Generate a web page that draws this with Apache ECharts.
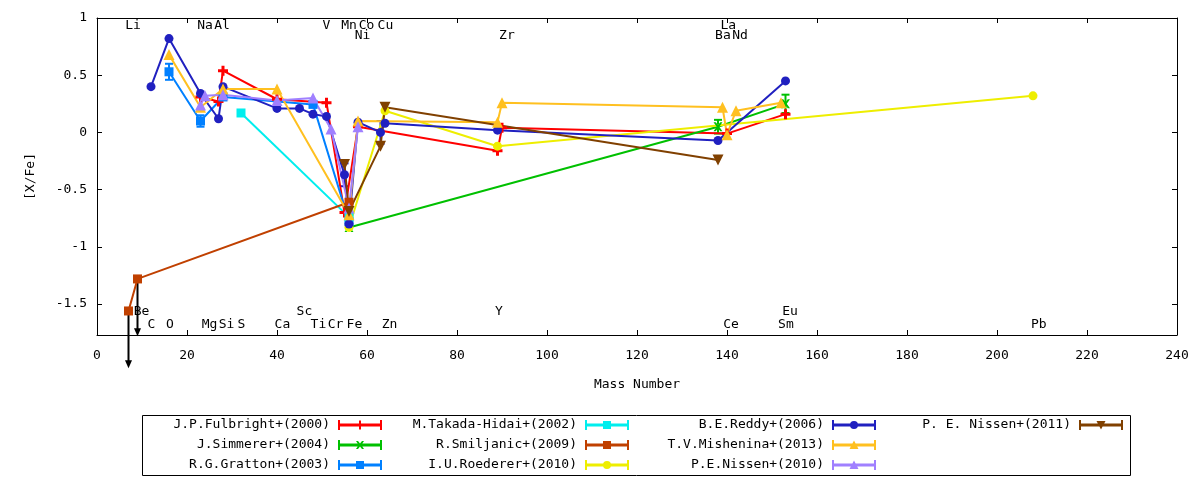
<!DOCTYPE html>
<html><head><meta charset="utf-8">
<script src="https://cdn.jsdelivr.net/npm/echarts@6/dist/echarts.min.js"></script>
<style>html,body{margin:0;padding:0;background:#fff}#c{width:1200px;height:480px}</style>
</head><body><div id="c"></div>
<script>
const FONT = '"DejaVu Sans Mono", monospace';

// Element annotations: name, x (mass number), y ([X/Fe])
const elemNames = ['Li','Na','Al','V','Mn','Co','Cu','Ni','Zr','La','Ba','Nd',
                   'Be','C','O','Mg','Si','S','Ca','Sc','Ti','Cr','Fe','Zn','Y','Ce','Eu','Sm','Pb'];
const elemX = [8.0,24.0,27.8,51.0,56.0,59.9,64.1,59.0,91.1,140.3,139.1,142.9,
               9.9,12.1,16.2,25.0,28.8,32.1,41.2,46.1,49.2,53.0,57.2,65.0,89.3,140.9,154.0,153.1,209.3];
const elemY = [0.935,0.935,0.935,0.935,0.935,0.935,0.935,0.85,0.85,0.935,0.85,0.85,
               -1.57,-1.68,-1.68,-1.68,-1.68,-1.68,-1.68,-1.57,-1.68,-1.68,-1.68,-1.68,-1.57,-1.68,-1.57,-1.68,-1.68];

// Series data
const fulbrightMass = [23, 27, 28, 40, 51, 55, 58, 89, 90, 140, 153];
const fulbrightVal  = [0.31, 0.27, 0.54, 0.29, 0.26, -0.70, 0.05, -0.16, 0.04, -0.01, 0.16];

const simmererMass = [56, 138, 153];
const simmererVal  = [-0.83, 0.05, 0.25];
const simmererErr  = [0, 0.06, 0.08];

const grattonMass = [16, 23, 28, 48, 56];
const grattonVal  = [0.53, 0.10, 0.31, 0.245, -0.78];
const grattonErr  = [0.07, 0.05, 0, 0, 0];

const takadaMass = [32, 56];
const takadaVal  = [0.17, -0.74];

const smiljanicMass  = [7, 9, 56];
const smiljanicVal   = [-1.56, -1.28, -0.61];
const smiljanicLimit = [1, 1, 0];   // 1 = upper limit (arrow)
const limitArrowLen = 0.5;

const roedererMass = [56, 64, 89, 208];
const roedererVal  = [-0.83, 0.19, -0.12, 0.32];

const reddyMass = [12, 16, 23, 27, 28, 40, 45, 48, 51, 55, 56, 58, 63, 64, 89, 138, 153];
const reddyVal  = [0.40, 0.82, 0.34, 0.12, 0.40, 0.21, 0.21, 0.16, 0.14, -0.37, -0.80, 0.09, 0.00, 0.08, 0.02, -0.07, 0.45];
const reddyErr  = [0, 0, 0, 0, 0, 0, 0, 0, 0, 0.1, 0, 0, 0.1, 0, 0, 0, 0];

const misheninaMass = [16, 23, 28, 40, 56, 58, 89, 90, 139, 140, 142, 152];
const misheninaVal  = [0.68, 0.22, 0.38, 0.38, -0.72, 0.10, 0.09, 0.26, 0.22, -0.02, 0.19, 0.26];

const nissen10Mass = [23, 24, 28, 40, 48, 52, 56, 58];
const nissen10Val  = [0.24, 0.32, 0.33, 0.28, 0.30, 0.03, -0.66, 0.05];

const nissen11Mass = [55, 56, 63, 64, 138];
const nissen11Val  = [-0.28, -0.69, -0.12, 0.22, -0.24];

// ---- styles ----
const SYM = {
  plus: 'path://M3.5 0H6.5V3.5H10V6.5H6.5V10H3.5V6.5H0V3.5H3.5Z',
  star: 'path://M0 0H2.5L5 3.2L7.5 0H10L6.4 5L10 10H7.5L5 6.8L2.5 10H0L3.6 5Z',
  square: 'rect', circle: 'circle', tri: 'triangle', itri: 'triangle'
};
const ICON_BAR = 'M0 0H2V3.5H42V0H44V10H42V6.5H2V10H0Z';
const ICON_MARK = {
  plus: 'M21 0.5H23V9.5H21Z',
  star: 'M18 1H20L22 3.6L24 1H26L23.3 5L26 9H24L22 6.4L20 9H18L20.7 5Z',
  square: 'M18 1H26V9H18Z',
  circle: 'M18 5A4 4 0 1 1 26 5A4 4 0 1 1 18 5Z',
  tri: 'M22 0.5L26.5 9H17.5Z',
  itri: 'M17.5 1H26.5L22 9.5Z'
};
const SIZE = {plus: 10, star: 9, square: 9, circle: 9, tri: 11, itri: 11};

const studies = [
  {name: 'J.P.Fulbright+(2000)', mass: fulbrightMass, val: fulbrightVal, color: '#ff0000', mark: 'plus'},
  {name: 'J.Simmerer+(2004)', mass: simmererMass, val: simmererVal, err: simmererErr, color: '#00c000', mark: 'star'},
  {name: 'R.G.Gratton+(2003)', mass: grattonMass, val: grattonVal, err: grattonErr, color: '#0080ff', mark: 'square'},
  {name: 'M.Takada-Hidai+(2002)', mass: takadaMass, val: takadaVal, color: '#00eeee', mark: 'square'},
  {name: 'R.Smiljanic+(2009)', mass: smiljanicMass, val: smiljanicVal, limit: smiljanicLimit, color: '#c04000', mark: 'square'},
  {name: 'I.U.Roederer+(2010)', mass: roedererMass, val: roedererVal, color: '#eeee00', mark: 'circle'},
  {name: 'B.E.Reddy+(2006)', mass: reddyMass, val: reddyVal, err: reddyErr, color: '#2020c0', mark: 'circle'},
  {name: 'T.V.Mishenina+(2013)', mass: misheninaMass, val: misheninaVal, color: '#ffc020', mark: 'tri'},
  {name: 'P.E.Nissen+(2010)', mass: nissen10Mass, val: nissen10Val, color: '#a080ff', mark: 'tri'},
  {name: 'P. E. Nissen+(2011)', mass: nissen11Mass, val: nissen11Val, color: '#804000', mark: 'itri'}
];

function errRender(color) {
  return function (params, api) {
    const x = api.value(0), y = api.value(1), e = api.value(2);
    const t = api.coord([x, y + e]), b = api.coord([x, y - e]);
    const hw = 4, st = {stroke: color, lineWidth: 2};
    return {type: 'group', children: [
      {type: 'line', shape: {x1: t[0], y1: t[1], x2: b[0], y2: b[1]}, style: st},
      {type: 'line', shape: {x1: t[0] - hw, y1: t[1], x2: t[0] + hw, y2: t[1]}, style: st},
      {type: 'line', shape: {x1: b[0] - hw, y1: b[1], x2: b[0] + hw, y2: b[1]}, style: st}
    ]};
  };
}
function arrowRender(params, api) {
  const x = api.value(0), y = api.value(1);
  const p = api.coord([x, y]), q = api.coord([x, y - limitArrowLen]);
  return {type: 'group', children: [
    {type: 'line', shape: {x1: p[0], y1: p[1], x2: q[0], y2: q[1] - 6}, style: {stroke: '#000', lineWidth: 2}},
    {type: 'polygon', shape: {points: [[q[0] - 3.5, q[1] - 8], [q[0] + 3.5, q[1] - 8], [q[0], q[1]]]}, style: {fill: '#000'}}
  ]};
}

const series = [];
studies.forEach(function (s) {
  if (s.limit) {
    const d = [];
    s.mass.forEach(function (m, i) { if (s.limit[i]) d.push([m, s.val[i]]); });
    series.push({type: 'custom', name: '_lim_' + s.name, data: d, renderItem: arrowRender,
      encode: {x: 0, y: 1}, silent: true, clip: false});
  }
  series.push({
    type: 'line', name: s.name,
    data: s.mass.map(function (m, i) { return [m, s.val[i]]; }),
    symbol: SYM[s.mark], symbolSize: SIZE[s.mark], symbolRotate: s.mark === 'itri' ? 180 : 0,
    showSymbol: true, showAllSymbol: true,
    lineStyle: {color: s.color, width: 2},
    itemStyle: {color: s.color, borderWidth: 0},
    emphasis: {disabled: true}, silent: true
  });
  if (s.err) {
    const d = [];
    s.mass.forEach(function (m, i) { if (s.err[i] > 0) d.push([m, s.val[i], s.err[i]]); });
    series.push({type: 'custom', name: '_err_' + s.name, data: d, renderItem: errRender(s.color),
      encode: {x: 0, y: 1}, silent: true, clip: false});
  }
});
series.push({
  type: 'custom', name: '_labels', silent: true, clip: false,
  data: elemX.map(function (x, i) { return [x, elemY[i]]; }),
  encode: {x: 0, y: 1},
  renderItem: function (params, api) {
    const p = api.coord([api.value(0), api.value(1)]);
    return {type: 'text', x: p[0], y: p[1], style: {
      text: elemNames[params.dataIndex], fill: '#000', fontFamily: FONT, fontSize: 13,
      align: 'center', verticalAlign: 'middle'}};
  }
});

const colIconRight = [382, 629, 876, 1123];
const rowCenter = [425, 445, 465];
const legends = studies.map(function (s, i) {
  const col = Math.floor(i / 3), row = i % 3;
  return {
    show: true, orient: 'vertical', align: 'right', padding: 0,
    right: 1200 - colIconRight[col], top: rowCenter[row] - 7,
    itemWidth: 44, itemHeight: 10, itemGap: 0, selectedMode: false,
    symbolKeepAspect: false,
    itemStyle: {borderWidth: 0},
    textStyle: {fontFamily: FONT, fontSize: 13, color: '#000', lineHeight: 14, padding: [0, 3, 0, 0]},
    data: [{name: s.name, icon: 'path://' + ICON_BAR + ICON_MARK[s.mark]}]
  };
});

function axisCommon() {
  return {
    axisLine: {show: true, onZero: false, lineStyle: {color: '#000', width: 1}},
    axisTick: {show: true, inside: true, length: 5, lineStyle: {color: '#000', width: 1}},
    splitLine: {show: false}
  };
}
const labelStyle = {color: '#000', fontFamily: FONT, fontSize: 13};
function yFmt(v) { return Math.abs(v * 2 - Math.round(v * 2)) < 1e-6 ? String(Math.round(v * 2) / 2) : ''; }

const option = {
  backgroundColor: '#fff',
  animation: false,
  textStyle: {fontFamily: FONT},
  grid: {left: 97, right: 23, top: 18, bottom: 145, containLabel: false, outerBoundsMode: 'none'},
  legend: legends,
  xAxis: [
    Object.assign({type: 'value', min: 0, max: 240, interval: 20, position: 'bottom',
      axisLabel: Object.assign({margin: 14}, labelStyle),
      name: 'Mass Number', nameLocation: 'middle', nameGap: 43,
      nameTextStyle: {color: '#000', fontFamily: FONT, fontSize: 13}}, axisCommon()),
    Object.assign({type: 'value', min: 0, max: 240, interval: 20, position: 'top',
      axisLabel: {show: false}}, axisCommon())
  ],
  yAxis: [
    Object.assign({type: 'value', min: -1.77, max: 1, splitNumber: 5, position: 'left',
      axisLabel: Object.assign({margin: 10, formatter: yFmt}, labelStyle),
      name: '[X/Fe]', nameLocation: 'middle', nameGap: 60, nameRotate: 90,
      nameTextStyle: {color: '#000', fontFamily: FONT, fontSize: 13}}, axisCommon()),
    Object.assign({type: 'value', min: -1.77, max: 1, splitNumber: 5, position: 'right',
      axisLabel: {show: false}}, axisCommon())
  ],
  graphic: [{type: 'rect', shape: {x: 142.5, y: 415.5, width: 988, height: 60},
    style: {fill: 'none', stroke: '#000', lineWidth: 1}, silent: true, z: 100}],
  series: series
};
const chart = echarts.init(document.getElementById('c'), null, {renderer: 'canvas'});
chart.setOption(option);
</script>
</body></html>
